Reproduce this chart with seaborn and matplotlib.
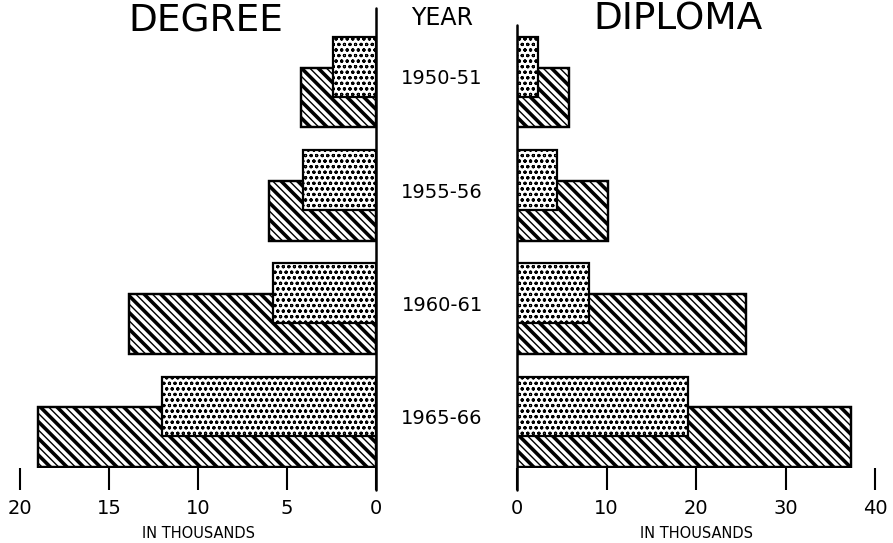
import numpy as np
import pandas as pd
import matplotlib
matplotlib.use("Agg")
import matplotlib.pyplot as plt
import matplotlib.transforms as mtransforms
import seaborn as sns

# ---- data (thousands) ----
years = ["1950-51", "1955-56", "1960-61", "1965-66"]
degree_hatched = [4.2, 6.0, 13.9, 19.0]
degree_stipple = [2.4, 4.1, 5.8, 12.0]
diploma_hatched = [5.8, 10.2, 25.6, 37.3]
diploma_stipple = [2.3, 4.5, 8.0, 19.1]
left_ticks = [20, 15, 10, 5, 0]
right_ticks = [0, 10, 20, 30, 40]

sns.set_style("white")
plt.rcParams["font.family"] = ["DejaVu Sans"]
plt.rcParams["text.color"] = "black"
plt.rcParams["axes.labelcolor"] = "black"
plt.rcParams["xtick.color"] = "black"
plt.rcParams["xtick.labelcolor"] = "black"

W, H = 893, 543
fig = plt.figure(figsize=(W / 100, H / 100), dpi=100)

ax_top_px, ax_bot_px = 10, 468
bottom = (H - ax_bot_px) / H
height = (ax_bot_px - ax_top_px) / H
axL = fig.add_axes([20 / W, bottom, 356 / W, height])
axR = fig.add_axes([517 / W, bottom, 358 / W, height])

idx = np.arange(len(years))
offset = 0.134
barw = 0.53


def draw_bars(ax, vals, pos, hatch, hatch_lw, face="white", edge_lw=1.6):
    before = len(ax.patches)
    with plt.rc_context({"hatch.linewidth": hatch_lw, "hatch.color": "black"}):
        sns.barplot(x=vals, y=pos, orient="y", native_scale=True, width=barw,
                    color=face, edgecolor="black", linewidth=edge_lw,
                    hatch=hatch, errorbar=None, ax=ax)
    for p in ax.patches[before:]:
        p.set_facecolor(face)
        p.set_edgecolor("black")
        if hasattr(p, "set_hatch_linewidth"):
            p.set_hatch_linewidth(hatch_lw)


for ax, hv, sv in [(axL, degree_hatched, degree_stipple),
                   (axR, diploma_hatched, diploma_stipple)]:
    pos_h = idx + offset
    pos_s = idx - offset
    draw_bars(ax, hv, pos_h, "\\\\\\\\", 1.0)
    draw_bars(ax, hv, pos_h, "\\\\", 2.6, face="none")
    draw_bars(ax, sv, pos_s, "ooo", 0.8)
    ax.set_ylim(3.41, -0.64)
    for s in ax.spines.values():
        s.set_visible(False)
    ax.set_yticks([])
    ax.set_ylabel("")
    ax.tick_params(axis="x", direction="out", length=16, width=1.5,
                   color="black", labelcolor="black", labelsize=14, pad=6,
                   bottom=True)
    ax.set_xlabel("IN THOUSANDS", fontsize=10.5, labelpad=6, color="black")

axL.set_xlim(20, 0)
axL.set_xticks(left_ticks)
axL.set_xticklabels([str(t) for t in left_ticks])
axR.set_xlim(0, 40)
axR.set_xticks(right_ticks)
axR.set_xticklabels([str(t) for t in right_ticks])

axL.axvline(0, ymin=-0.048, ymax=1.004, color="black", lw=1.8, clip_on=False, zorder=5)
axR.axvline(0, ymin=-0.048, ymax=0.967, color="black", lw=1.8, clip_on=False, zorder=5)

# titles
fig.text(206 / W, 1 - 21 / H, "DEGREE", fontsize=27, ha="center", va="center")
fig.text(678 / W, 1 - 20 / H, "DIPLOMA", fontsize=27, ha="center", va="center")
fig.text(442 / W, 1 - 18 / H, "YEAR", fontsize=17, ha="center", va="center")

# year labels
tr = mtransforms.blended_transform_factory(fig.transFigure, axL.transData)
for i, y in enumerate(years):
    fig.text(442 / W, idx[i] - 0.03, y, fontsize=14, ha="center", va="center",
             transform=tr)

fig.savefig("out.png", dpi=100)
